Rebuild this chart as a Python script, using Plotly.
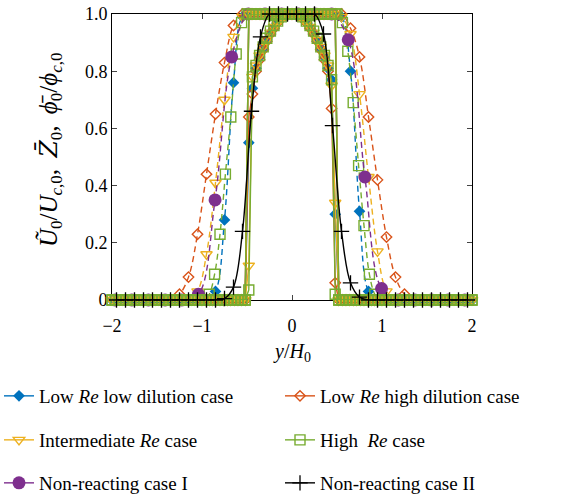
import numpy as np
import plotly.graph_objects as go

# ---------------------------------------------------------------- sampling grids (y/H0)
Y_FINE = np.round(np.arange(-50, 51) * 0.04, 2)      # -2 ... 2, step 0.04
Y_NARROW = np.round(np.arange(-25, 26) * 0.04, 2)    # -1 ... 1, step 0.04
Y_HALF = np.round(np.arange(-19.5, 20) * 0.1, 2)     # -1.95 ... 1.95, step 0.1
Y_GREEN = np.round(np.concatenate([-(0.02 + 0.06 * np.arange(32, -1, -1)),
                                   0.02 + 0.06 * np.arange(33)]), 2)
Y_PURPLE = [-1.965, -1.78, -1.595, -1.41, -1.225, -1.04, -0.855, -0.67, -0.485,
            -0.30, -0.115, 0.07, 0.255, 0.44, 0.625, 0.81, 0.995, 1.18, 1.365,
            1.55, 1.735, 1.92]

# ---------------------------------------------------------------- top-hat mixture fraction
Z_FINE = [0] * 38 + [1] * 25 + [0] * 38
Z_NARROW = [0] * 13 + [1] * 25 + [0] * 13

# ---------------------------------------------------------------- velocity, |y/H0| <= 0.48
U_BLUE_CORE = [0.55, 0.74, 0.81, 0.85, 0.88, 0.91, 0.935, 0.955, 0.97, 0.985, 0.995, 1.0,
               1.0,
               1.0, 0.995, 0.985, 0.97, 0.955, 0.935, 0.91, 0.88, 0.85, 0.81, 0.77, 0.30]
U_ORANGE_CORE = [0.64, 0.72, 0.80, 0.84, 0.875, 0.905, 0.93, 0.95, 0.97, 0.985, 0.995, 1.0,
                 1.0,
                 1.0, 0.995, 0.985, 0.97, 0.95, 0.93, 0.905, 0.875, 0.84, 0.80, 0.67, 0.06]
U_YELLOW_CORE = [0.12, 0.78, 0.82, 0.855, 0.885, 0.91, 0.935, 0.955, 0.97, 0.985, 0.995, 1.0,
                 1.0,
                 1.0, 0.995, 0.985, 0.97, 0.955, 0.935, 0.91, 0.885, 0.855, 0.82, 0.75, 0.34]
U_GREEN_CORE = [0.035, 0.78, 0.82, 0.855, 0.885, 0.915, 0.94, 0.96, 0.975, 0.99, 1.0, 1.0,
                1.0,
                1.0, 1.0, 0.99, 0.975, 0.96, 0.94, 0.915, 0.885, 0.855, 0.82, 0.77, 0.02]
U_BLUE = [0] * 38 + U_BLUE_CORE + [0] * 38
U_ORANGE = [0] * 13 + U_ORANGE_CORE + [0] * 13
U_YELLOW = [0] * 38 + U_YELLOW_CORE + [0] * 38
U_GREEN = [0] * 38 + U_GREEN_CORE + [0] * 38

# ---------------------------------------------------------------- scalar profiles (outward from centre)
PHI_BLUE_L = [1, 1, 1, 1, 1, 0.99, 0.76, 0.28, 0.03, 0, 0, 0, 0, 0, 0, 0, 0, 0, 0, 0]
PHI_BLUE_R = [1, 1, 1, 1, 1, 0.99, 0.80, 0.31, 0.03, 0, 0, 0, 0, 0, 0, 0, 0, 0, 0, 0]
PHI_ORANGE_L = [1, 1, 1, 1, 1, 1, 0.96, 0.83, 0.65, 0.44, 0.23, 0.08, 0.02, 0, 0, 0, 0, 0, 0, 0]
PHI_ORANGE_R = [1, 1, 1, 1, 1, 1, 0.95, 0.85, 0.64, 0.42, 0.22, 0.08, 0.02, 0, 0, 0, 0, 0, 0, 0]
PHI_YELLOW_L = [1, 1, 1, 1, 1, 0.99, 0.92, 0.70, 0.41, 0.16, 0.03, 0, 0, 0, 0, 0, 0, 0, 0, 0]
PHI_YELLOW_R = [1, 1, 1, 1, 1, 0.99, 0.93, 0.72, 0.43, 0.17, 0.03, 0, 0, 0, 0, 0, 0, 0, 0, 0]
PHI_GREEN_L = [1] * 9 + [0.97, 0.86, 0.64, 0.44, 0.23, 0.09, 0.02] + [0] * 17
PHI_GREEN_R = [1] * 9 + [0.97, 0.87, 0.69, 0.47, 0.26, 0.09, 0.02] + [0] * 17
PHI_PURPLE = [0, 0, 0, 0, 0, 0.02, 0.35, 0.85, 1, 1, 1, 1, 1, 1, 0.91, 0.43, 0.04,
              0, 0, 0, 0, 0]
PHI_BLACK_L = [1, 1, 1, 0.92, 0.66, 0.24, 0.045, 0.005, 0, 0, 0, 0, 0, 0, 0, 0, 0, 0, 0, 0]
PHI_BLACK_R = [1, 1, 1, 0.93, 0.61, 0.24, 0.06, 0.01, 0, 0, 0, 0, 0, 0, 0, 0, 0, 0, 0, 0]


def mirror(left, right):
    return list(reversed(left)) + list(right)


BLUE, ORANGE, YELLOW = "#0072BD", "#D95319", "#EDB120"
PURPLE, GREEN, BLACK = "#7E2F8E", "#77AC30", "#000000"
DASH = "6px,4px"
SERIF = "Liberation Serif"

CASES = [
    dict(name="Low <i>Re</i> low dilution case", color=BLUE,
         marker=dict(symbol="diamond", size=9, color=BLUE, line=dict(width=0))),
    dict(name="Low <i>Re</i> high dilution case", color=ORANGE,
         marker=dict(symbol="diamond-open", size=8, color=ORANGE, line=dict(width=1.4))),
    dict(name="Intermediate <i>Re</i> case", color=YELLOW,
         marker=dict(symbol="triangle-down-open", size=10, color=YELLOW, line=dict(width=1.4))),
    dict(name="High\u00a0 <i>Re</i> case", color=GREEN,
         marker=dict(symbol="square-open", size=10, color=GREEN, line=dict(width=1.4))),
    dict(name="Non-reacting case I", color=PURPLE,
         marker=dict(symbol="circle", size=13, color=PURPLE, line=dict(width=0))),
    dict(name="Non-reacting case II", color=BLACK,
         marker=dict(symbol="cross-thin", size=11, color=BLACK,
                     line=dict(width=1.3, color=BLACK))),
]

fig = go.Figure()


def add(x, y, case, dash="solid", shape="linear"):
    fig.add_trace(go.Scatter(
        x=list(x), y=list(y), mode="lines+markers",
        line=dict(color=case["color"], width=1.4, dash=dash, shape=shape),
        marker=case["marker"], cliponaxis=False, showlegend=False, hoverinfo="skip"))


# dashed scalar profiles
add(Y_HALF, mirror(PHI_BLUE_L, PHI_BLUE_R), CASES[0], DASH, "spline")
add(Y_HALF, mirror(PHI_ORANGE_L, PHI_ORANGE_R), CASES[1], DASH, "spline")
add(Y_HALF, mirror(PHI_YELLOW_L, PHI_YELLOW_R), CASES[2], DASH, "spline")
add(Y_GREEN, mirror(PHI_GREEN_L, PHI_GREEN_R), CASES[3], DASH, "spline")
add(Y_PURPLE, PHI_PURPLE, CASES[4], DASH, "spline")

# solid velocity and mixture-fraction profiles
add(Y_FINE, Z_FINE, CASES[0])
add(Y_FINE, U_BLUE, CASES[0])
add(Y_NARROW, Z_NARROW, CASES[1])
add(Y_NARROW, U_ORANGE, CASES[1])
add(Y_FINE, Z_FINE, CASES[2])
add(Y_FINE, U_YELLOW, CASES[2])
add(Y_FINE, Z_FINE, CASES[3])
add(Y_FINE, U_GREEN, CASES[3])
add(Y_HALF, mirror(PHI_BLACK_L, PHI_BLACK_R), CASES[5], "solid", "spline")

X0, X1, YB, YT = 112, 472, 300, 14
W, H = 582, 498


def px_x(p):
    return (p - X0) / (X1 - X0)


def px_y(p):
    return (YB - p) / (YB - YT)


# one legend box per entry: two columns, three rows
LEG_COL_PX = [-1, 280]
LEG_ROW_PX = [396, 440, 483]
legend_layout = {}
for i, case in enumerate(CASES):
    key = "legend" if i == 0 else f"legend{i + 1}"
    fig.add_trace(go.Scatter(
        x=[None], y=[None], mode="lines+markers", name=case["name"],
        line=dict(color=case["color"], width=1.4), marker=case["marker"],
        legend=key, hoverinfo="skip"))
    legend_layout[key] = dict(
        x=px_x(LEG_COL_PX[i % 2]), y=px_y(LEG_ROW_PX[i // 2]),
        xanchor="left", yanchor="middle", orientation="h",
        bgcolor="rgba(0,0,0,0)", itemwidth=30,
        font=dict(family=SERIF, size=19, color="black"))

SUB = "<sub><span style='font-size:17px'>{}</span></sub>"
Y_TITLE = ("<i>\u0168</i>" + SUB.format("0") + "/<i>U</i>" + SUB.format("<i>c</i>,0")
           + ",\u2009 <span style='font-family:DejaVu Serif'><i>Z\u0304</i></span>"
           + SUB.format("0")
           + ",\u2009 <i>\u03d5\u0304</i>" + SUB.format("0")
           + "/<i>\u03d5</i>" + SUB.format("<i>c</i>,0"))

fig.update_layout(
    width=W, height=H,
    margin=dict(l=X0, r=W - X1, t=YT, b=H - YB, autoexpand=False),
    paper_bgcolor="white", plot_bgcolor="white",
    font=dict(family=SERIF, size=18, color="black"),
    xaxis=dict(range=[-2, 2], tickvals=[-2, -1, 0, 1, 2], ticks="inside", ticklen=5,
               showline=True, linecolor="black", linewidth=1, mirror="ticks",
               showgrid=False, zeroline=False, layer="below traces",
               ticklabelstandoff=9, tickfont=dict(family=SERIF, size=18)),
    yaxis=dict(range=[0, 1], tickvals=[0, 0.2, 0.4, 0.6, 0.8, 1.0],
               ticktext=["0", "0.2", "0.4", "0.6", "0.8", "1.0"],
               ticks="inside", ticklen=5,
               showline=True, linecolor="black", linewidth=1, mirror="ticks",
               showgrid=False, zeroline=False, layer="below traces",
               tickfont=dict(family=SERIF, size=18)),
    annotations=[
        dict(text="<i>y</i>/<i>H</i><sub>0</sub>", xref="paper", yref="paper",
             x=px_x(292), y=px_y(352), showarrow=False, xanchor="center", yanchor="middle",
             font=dict(family=SERIF, size=20)),
        dict(text=Y_TITLE, xref="paper", yref="paper", x=px_x(50), y=px_y(150),
             textangle=-90, showarrow=False, xanchor="center", yanchor="middle",
             font=dict(family=SERIF, size=25)),
    ],
    **legend_layout,
)

fig.write_html("out.html")
